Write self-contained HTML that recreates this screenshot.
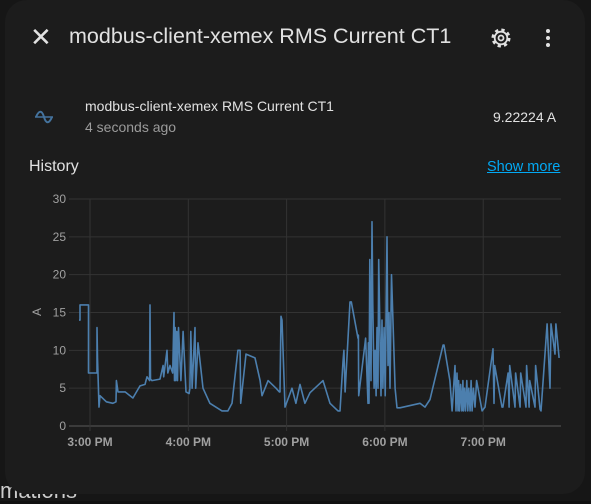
<!DOCTYPE html>
<html><head><meta charset="utf-8">
<style>
body{margin:0;width:591px;height:501px;background:#111111;overflow:hidden;font-family:"Liberation Sans",sans-serif;position:relative}
.dlg{position:absolute;left:5px;top:0;width:580px;height:494px;background:#1c1c1c;border-radius:22px}
.t{position:absolute;color:#e1e1e1;white-space:nowrap}
</style></head><body>
<div style="position:absolute;left:0;top:0;width:591px;height:501px;background:#161616"></div>
<div class="t" style="left:0;top:478px;font-size:22px;color:#ccc">mations</div>
<div class="dlg"></div>
<div class="t" style="left:30px;top:22px;font-size:26px;color:#e1e1e1">✕</div>
<div class="t" style="left:69px;top:24px;font-size:21.5px">modbus-client-xemex RMS Current CT1</div>
<svg style="position:absolute;left:489px;top:26px" width="24" height="24" viewBox="0 0 24 24"><circle cx="12" cy="12" r="8" fill="none" stroke="#e1e1e1" stroke-width="3" stroke-dasharray="3.2 3.1"/><circle cx="12" cy="12" r="6.3" fill="none" stroke="#e1e1e1" stroke-width="1.8"/><circle cx="12" cy="12" r="2.5" fill="none" stroke="#e1e1e1" stroke-width="1.8"/></svg>
<svg style="position:absolute;left:540px;top:27px" width="16" height="22"><circle cx="8" cy="4" r="2" fill="#e1e1e1"/><circle cx="8" cy="11" r="2" fill="#e1e1e1"/><circle cx="8" cy="18" r="2" fill="#e1e1e1"/></svg>
<svg style="position:absolute;left:34px;top:110px" width="20" height="14"><path d="M2 7 C5 0 8 0 10 7 C12 14 15 14 18 7" fill="none" stroke="#44739e" stroke-width="2"/><line x1="1" y1="7" x2="19" y2="7" stroke="#44739e" stroke-width="1.5"/></svg>
<div class="t" style="left:85px;top:98px;font-size:14px">modbus-client-xemex RMS Current CT1</div>
<div class="t" style="left:85px;top:119px;font-size:14px;color:#9b9b9b">4 seconds ago</div>
<div class="t" style="left:493px;top:109px;font-size:14px">9.22224 A</div>
<div class="t" style="left:29px;top:158px;font-size:16px">History</div>
<div class="t" style="left:487px;top:159px;font-size:14.5px;color:#03a9f4;text-decoration:underline">Show more</div>
<svg id="chart" style="position:absolute;left:0;top:0" width="591" height="501"></svg>
<script>
const yTicks=[0,5,10,15,20,25,30];
const xTickLabels=["3:00 PM","4:00 PM","5:00 PM","6:00 PM","7:00 PM"];
const xTickMinutes=[0,60,120,180,240];
const times=[-6.7,-6.1,-6.1,-0.9,-0.9,4.3,4.3,4.6,5.5,6.1,10,14,15.9,16.1,17.1,21.4,26.2,30.5,33.6,34.8,36.4,36.6,36.9,37.8,42.7,44.6,45,47,47.5,48.8,50.5,51.3,51.6,52,52.4,53,53.4,54,55.5,56.8,58.6,60.5,61,61.5,62.3,64.1,64.5,65.9,69,73.2,80.6,84.2,86.7,90.3,91.6,92,95.2,100.7,103.8,105,108.7,113.5,115.6,116,116.6,117.2,119,123.3,125.7,128.2,131.2,134.3,142.2,146.5,151.4,152.6,154.4,155,155.7,158.7,159.5,163.6,163.8,164,167.9,168.2,169.7,169.9,170.3,170.8,171.5,172.1,172.6,173.4,174,174.6,175.2,175.8,176.2,177,177.6,178.2,178.8,179.5,180.2,181.3,181.9,182.5,183.1,184,186.2,187.4,189.2,201.4,204.5,207.5,215.5,216.1,219.7,221,222.8,223.4,224,224.6,225,225.6,226.2,227,227.6,228,228.6,229.2,230,230.6,231.2,232,232.6,233.2,234,235,236,239.3,241.1,246,246.6,247,251.5,252,255.2,255.8,256.2,259.4,259.8,262.5,262.9,266.1,266.5,268,268.4,271.6,272,274.7,275.3,279,280.8,281.4,283.8,284.4,286.3,286.9];
const values=[14,14,16,16,7,7,13,9,2.5,4,3.2,3,3.2,6,4.5,4.5,3.7,5.3,5.5,6.5,6,16,6.2,6,6.2,8,6.5,10,7,8,7,15,6,13,6,12.5,6,13,6,12.5,4.5,4.3,5,12.5,5,13,5,11,5,3,2,2,3,10,10,3,9.5,9,6,4,6,5,4.5,4.5,14.5,14,2.5,5,3,5.5,3,4.4,6,3,2,2,8.5,10,4.5,16.4,16.4,11.6,12,4,11,11.6,3,11,3,22,6,27,16,5,10,4,13,5,22,12,4,14,5,13,4,25,8,15,5,20,5,2.4,2.4,3,2.5,3.5,10.7,10.7,6,2,8,2,7,2,6,2,5.5,2,6,2,5,2,6,2,5,2,6,2,5,2.5,6,2,2.5,10.2,3,8,2.5,2.5,7,2.5,8,2.5,7,2.5,7,2.5,8,2.5,6,2.5,8,2.2,2,13.5,5,13.5,9.5,13.5,9];
const svg=document.getElementById('chart');const NS='http://www.w3.org/2000/svg';
const x=m=>90+m*98.3/60, y=v=>426-v*227/30;
function mk(t,a,p){const e=document.createElementNS(NS,t);for(const k in a)e.setAttribute(k,a[k]);(p||svg).appendChild(e);return e;}
yTicks.forEach(v=>{
 const l=mk('line',{x1:69,x2:561,y1:y(v),y2:y(v),stroke:v===0?'#5a5a5a':'#333','stroke-width':1});
 
 
 const t=mk('text',{x:66,y:y(v)+4,'text-anchor':'end',fill:'#a0a0a0','font-size':12,'font-family':'Liberation Sans, sans-serif'});t.textContent=v;
 
 
});
xTickMinutes.forEach((m,i)=>{
 const l=mk('line',{x1:x(m),x2:x(m),y1:199,y2:431,stroke:'#333','stroke-width':1});
 
 
 const t=mk('text',{x:x(m),y:446,'text-anchor':'middle',fill:'#a0a0a0','font-size':12,'font-weight':'bold','font-family':'Liberation Sans, sans-serif'});t.textContent=xTickLabels[i];
 
 
});
const yt=mk('text',{x:0,y:0,transform:'translate(41,312) rotate(-90)','text-anchor':'middle',fill:'#a0a0a0','font-size':12,'font-family':'Liberation Sans, sans-serif'});yt.textContent='A';


let d='';times.forEach((m,i)=>{d+=(i?'L':'M')+x(m).toFixed(1)+' '+y(values[i]).toFixed(1);});
const p=mk('path',{d:d,fill:'none',stroke:'#4c7fae','stroke-width':1.6,'stroke-linejoin':'round'});


</script>
</body></html>
